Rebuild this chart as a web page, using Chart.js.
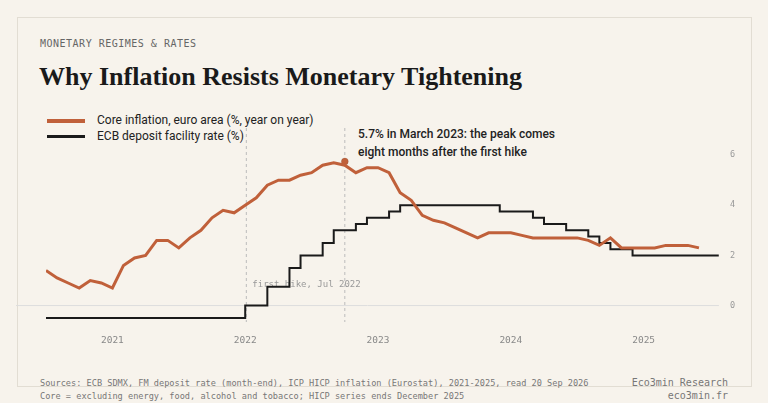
<!DOCTYPE html>
<html><head><meta charset="utf-8">
<script src="https://cdn.jsdelivr.net/npm/chart.js@4"></script>
<style>
body{margin:0;background:#f7f3ec;width:768px;height:403px;overflow:hidden;position:relative;font-family:"DejaVu Sans Mono",monospace}
#panel{position:absolute;left:17px;top:17px;width:733px;height:368px;border:1px solid #e2ddd3}
.t{position:absolute;white-space:nowrap}
#wrap{position:absolute;left:0;top:0;width:768px;height:403px}
</style></head><body>
<div id="panel"></div>
<div class="t" style="left:40px;top:38px;font-size:10px;letter-spacing:0.5px;color:#666">MONETARY REGIMES &amp; RATES</div>
<div class="t" style="left:39px;top:62px;font-family:'Liberation Serif',serif;font-weight:bold;font-size:26px;color:#1a1a1a">Why Inflation Resists Monetary Tightening</div>
<div class="t" style="left:40px;top:378px;font-size:8.6px;color:#777">Sources: ECB SDMX, FM deposit rate (month-end), ICP HICP inflation (Eurostat), 2021-2025, read 20 Sep 2026</div>
<div class="t" style="left:40px;top:391px;font-size:8.6px;color:#777">Core = excluding energy, food, alcohol and tobacco; HICP series ends December 2025</div>
<div class="t" style="right:40px;top:377px;font-size:10px;color:#777">Eco3min Research</div>
<div class="t" style="right:40px;top:390px;font-size:10px;color:#777">eco3min.fr</div>
<div class="t" style="left:47px;top:113px;font-family:Roboto,sans-serif;font-size:12px;color:#222"><span style="display:inline-block;width:38px;height:4px;background:#c0603a;vertical-align:middle;margin-right:12px"></span>Core inflation, euro area (%, year on year)</div>
<div class="t" style="left:47px;top:129px;font-family:Roboto,sans-serif;font-size:12px;color:#222"><span style="display:inline-block;width:38px;height:3px;background:#1a1a1a;vertical-align:middle;margin-right:12px"></span>ECB deposit facility rate (%)</div>
<div class="t" style="left:358px;top:125px;font-family:Roboto,sans-serif;font-size:12px;font-weight:500;color:#222;line-height:18px">5.7% in March 2023: the peak comes<br>eight months after the first hike</div>
<div id="wrap"><canvas id="c" width="768" height="403"></canvas></div>
<script>
const yearLabels=["2021","2022","2023","2024","2025"];
const yearTicks=[6,18,30,42,54];
const core=[1.4,1.1,0.9,0.7,1.0,0.9,0.7,1.6,1.9,2.0,2.6,2.6,2.3,2.7,3.0,3.5,3.8,3.7,4.0,4.3,4.8,5.0,5.0,5.2,5.3,5.6,5.7,5.6,5.3,5.5,5.5,5.3,4.5,4.2,3.6,3.4,3.3,3.1,2.9,2.7,2.9,2.9,2.9,2.8,2.7,2.7,2.7,2.7,2.7,2.6,2.4,2.7,2.3,2.3,2.3,2.3,2.4,2.4,2.4,2.3];
const rateMonths=[0,18,20,22,23,25,26,28,29,31,32,41,44,45,47,49,50,51,53,60.8];
const rateValues=[-0.5,0,0.75,1.5,2.0,2.5,3.0,3.25,3.5,3.75,4.0,3.75,3.5,3.25,3.0,2.75,2.5,2.25,2.0,2.0];
const peak={x:27,y:5.75};
const vlines=[{x:18.1,label:"first hike, Jul 2022"},{x:27,label:""}];
const annot={id:'annot',beforeDatasetsDraw(ch){const {ctx,chartArea:a,scales:{x,y}}=ch;ctx.save();
 ctx.strokeStyle='#ddd';ctx.lineWidth=1;ctx.beginPath();ctx.moveTo(a.left-30,y.getPixelForValue(0));ctx.lineTo(a.right,y.getPixelForValue(0));ctx.stroke();
 ctx.setLineDash([3,3]);ctx.strokeStyle='#bbb';
 vlines.forEach(v=>{const px=x.getPixelForValue(v.x);ctx.beginPath();ctx.moveTo(px,128);ctx.lineTo(px,322);ctx.stroke();
  if(v.label){ctx.fillStyle='#999';ctx.font='9px "DejaVu Sans Mono"';ctx.fillText(v.label,px+6,287);}});
 ctx.restore();}};
new Chart(document.getElementById('c'),{
 data:{datasets:[
  {type:'line',data:core.map((v,i)=>({x:i,y:v})),borderColor:'#c0603a',borderWidth:3,pointRadius:0,tension:0},
  {type:'line',data:rateMonths.map((m,i)=>({x:m,y:rateValues[i]})),borderColor:'#1a1a1a',borderWidth:2,pointRadius:0,stepped:true},
  {type:'scatter',data:[peak],backgroundColor:'#c0603a',pointRadius:3.5}
 ]},
 plugins:[annot],
 options:{responsive:false,animation:false,events:[],
  layout:{padding:{left:46,right:30,top:100,bottom:51}},
  plugins:{legend:{display:false},tooltip:{enabled:false}},
  scales:{
   x:{type:'linear',min:0,max:60.8,grid:{display:false},border:{display:false},
     afterBuildTicks(s){s.ticks=yearTicks.map(v=>({value:v}));},
     ticks:{autoSkip:false,maxRotation:0,color:'#888',font:{family:'DejaVu Sans Mono',size:9.5},padding:6,callback:(v)=>yearLabels[yearTicks.indexOf(v)]}},
   y:{position:'right',min:-0.6,max:8.2,grid:{display:false},border:{display:false},
     afterBuildTicks(s){s.ticks=[0,2,4,6].map(v=>({value:v}));},
     ticks:{color:'#999',font:{family:'DejaVu Sans Mono',size:8.5},padding:3}}
  }}});
</script></body></html>
